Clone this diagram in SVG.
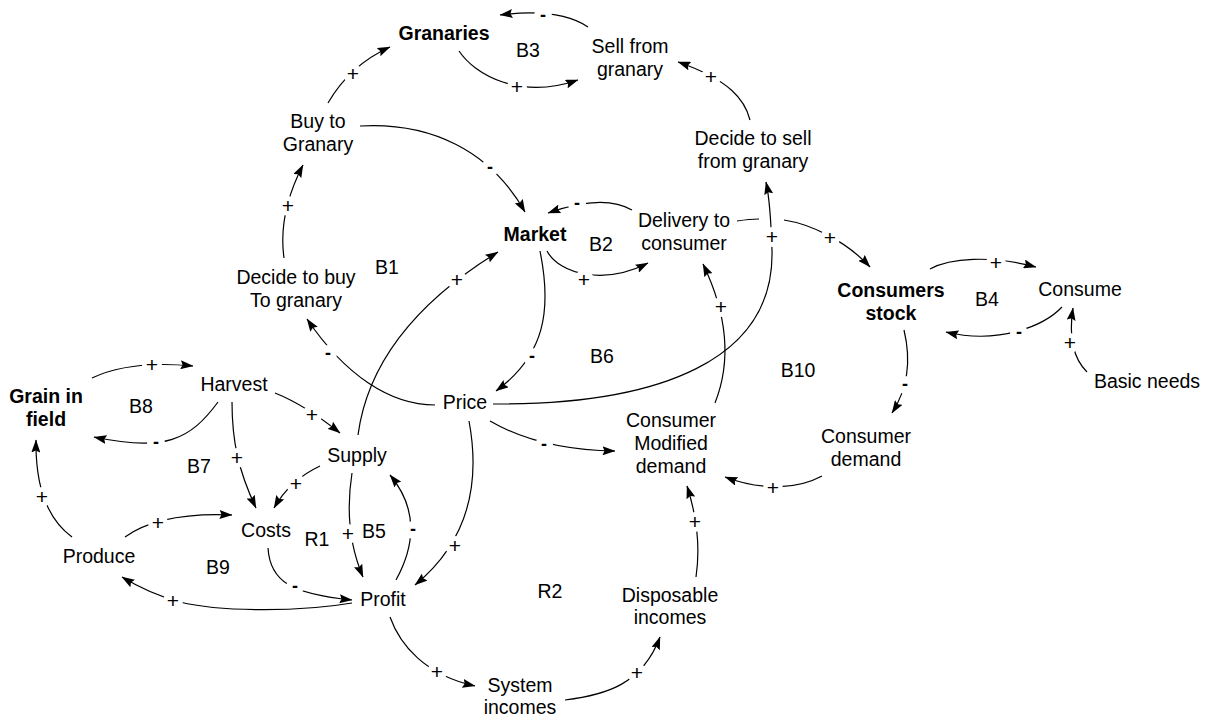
<svg xmlns="http://www.w3.org/2000/svg" width="1212" height="718" viewBox="0 0 1212 718">
<style>
  .n text, .loop { font-family: "Liberation Sans", Arial, Helvetica, sans-serif; font-size: 19.5px; fill: #000; text-anchor: middle; }
  .b text { font-weight: bold; }
  .edges path { fill: none; stroke: #000; stroke-width: 1.2; marker-end: url(#ah); }
  .pol { font-family: "Liberation Sans", Arial, Helvetica, sans-serif; font-size: 21px; text-anchor: middle; fill: #000; }
  .neg { font-weight: bold; font-size: 18px; }
</style>
<defs>
  <marker id="ah" viewBox="0 0 13 9" refX="12.5" refY="4.5" markerWidth="13" markerHeight="9" orient="auto" markerUnits="userSpaceOnUse">
    <path d="M0,0 L13,4.5 L0,9 L2,4.5 z" fill="#000"/>
  </marker>
  <mask id="gaps" maskUnits="userSpaceOnUse" x="0" y="0" width="1212" height="718">
    <rect x="0" y="0" width="1212" height="718" fill="#fff"/>
    <g fill="#000">
      <circle cx="152" cy="365" r="10"/><circle cx="156" cy="443" r="9"/><circle cx="312" cy="415" r="10"/>
      <circle cx="237" cy="458" r="10"/><circle cx="296" cy="484" r="10"/><circle cx="158" cy="523" r="10"/>
      <circle cx="42" cy="497" r="10"/><circle cx="173" cy="601" r="10"/><circle cx="295" cy="587" r="9"/>
      <circle cx="348" cy="534" r="10"/><circle cx="413" cy="530" r="9"/><circle cx="455" cy="546" r="10"/>
      <circle cx="544" cy="445" r="9"/><circle cx="328" cy="354" r="9"/><circle cx="457" cy="280" r="10"/>
      <circle cx="532" cy="357" r="9"/><circle cx="584" cy="280" r="10"/><circle cx="577" cy="204" r="9"/>
      <circle cx="490" cy="168" r="9"/><circle cx="288" cy="206" r="10"/><circle cx="353" cy="74" r="10"/>
      <circle cx="517" cy="87" r="10"/><circle cx="543" cy="16" r="9"/><circle cx="711" cy="77" r="10"/>
      <circle cx="772" cy="237" r="10"/><circle cx="830" cy="238" r="10"/><circle cx="996" cy="263" r="10"/>
      <circle cx="1019" cy="333" r="9"/><circle cx="1070" cy="343" r="10"/><circle cx="905" cy="385" r="9"/>
      <circle cx="773" cy="488" r="10"/><circle cx="695" cy="522" r="10"/><circle cx="721" cy="307" r="10"/>
      <circle cx="437" cy="672" r="10"/><circle cx="637" cy="673" r="10"/>
    </g>
  </mask>
</defs>
<rect width="1212" height="718" fill="#fff"/>

<g id="connectors">
  <g class="edges" mask="url(#gaps)">
    <path id="e-grain-harvest" d="M92,378 Q130,360 193,366"/>
    <path id="e-harvest-grain" d="M218,402 C190,440 165,452 94,437"/>
    <path id="e-harvest-supply" d="M275,393 Q305,405 340,433"/>
    <path id="e-harvest-costs" d="M232,402 C232,440 238,470 256,508"/>
    <path id="e-supply-costs" d="M320,466 Q290,480 274,508"/>
    <path id="e-produce-costs" d="M125,537 Q160,512 232,515"/>
    <path id="e-produce-grain" d="M72,537 Q35,510 36,440"/>
    <path id="e-profit-produce" d="M352,603 C300,612 220,612 180,602 Q150,594 122,577"/>
    <path id="e-costs-profit" d="M268,548 C270,582 292,594 352,600"/>
    <path id="e-supply-profit" d="M352,473 Q343,530 363,577"/>
    <path id="e-profit-supply" d="M396,580 C418,540 415,505 390,475"/>
    <path id="e-price-profit" d="M469,421 C480,480 470,540 415,585"/>
    <path id="e-price-cmd" d="M490,421 Q540,450 615,451"/>
    <path id="e-price-decidebuy" d="M435,405 C390,405 345,375 307,319"/>
    <path id="e-supply-market" d="M358,435 C368,360 420,300 498,252"/>
    <path id="e-market-price" d="M540,251 C552,310 545,355 496,391"/>
    <path id="e-market-delivery" d="M547,251 C560,275 605,285 648,263"/>
    <path id="e-delivery-market" d="M632,210 C615,200 590,198 548,213"/>
    <path id="e-buy-market" d="M360,126 C430,122 490,150 525,212"/>
    <path id="e-decidebuy-buy" d="M284,258 C280,230 285,200 303,165"/>
    <path id="e-buy-granaries" d="M328,103 Q350,65 390,47"/>
    <path id="e-granaries-sell" d="M459,51 C475,75 520,100 578,80"/>
    <path id="e-sell-granaries" d="M588,27 C570,15 540,10 500,15"/>
    <path id="e-decidesell-sell" d="M750,120 C745,100 730,80 678,62"/>
    <path id="e-price-decidesell" d="M493,404 C660,405 775,360 772,250 C771,220 770,200 766,182"/>
    <path id="e-delivery-consumers" d="M737,221 Q750,219 759,219 M784,220 C810,224 845,240 870,267"/>
    <path id="e-consumers-consume" d="M930,269 C950,258 990,255 1036,267"/>
    <path id="e-consume-consumers" d="M1062,307 C1045,325 1000,345 946,332"/>
    <path id="e-basic-consume" d="M1087,372 C1075,360 1068,340 1073,308"/>
    <path id="e-consumers-demand" d="M904,330 C910,355 910,385 892,413"/>
    <path id="e-demand-cmd" d="M822,476 C800,488 765,492 725,477"/>
    <path id="e-disp-cmd" d="M696,577 C700,550 698,520 687,486"/>
    <path id="e-cmd-delivery" d="M715,403 C730,365 730,320 703,264"/>
    <path id="e-profit-system" d="M390,617 C400,645 425,675 475,686"/>
    <path id="e-system-disp" d="M565,700 C605,695 642,685 660,637"/>
  </g>
  <g id="polarities">
    <text class="pol" x="152" y="372">+</text>
    <text class="pol neg" x="156" y="448">-</text>
    <text class="pol" x="312" y="422">+</text>
    <text class="pol" x="237" y="465">+</text>
    <text class="pol" x="296" y="491">+</text>
    <text class="pol" x="158" y="530">+</text>
    <text class="pol" x="42" y="504">+</text>
    <text class="pol" x="173" y="608">+</text>
    <text class="pol neg" x="295" y="592">-</text>
    <text class="pol" x="348" y="541">+</text>
    <text class="pol neg" x="413" y="535">-</text>
    <text class="pol" x="455" y="553">+</text>
    <text class="pol neg" x="544" y="450">-</text>
    <text class="pol neg" x="328" y="359">-</text>
    <text class="pol" x="457" y="287">+</text>
    <text class="pol neg" x="532" y="362">-</text>
    <text class="pol" x="584" y="287">+</text>
    <text class="pol neg" x="577" y="209">-</text>
    <text class="pol neg" x="490" y="173">-</text>
    <text class="pol" x="288" y="213">+</text>
    <text class="pol" x="353" y="81">+</text>
    <text class="pol" x="517" y="94">+</text>
    <text class="pol neg" x="543" y="21">-</text>
    <text class="pol" x="711" y="84">+</text>
    <text class="pol" x="772" y="244">+</text>
    <text class="pol" x="830" y="245">+</text>
    <text class="pol" x="996" y="270">+</text>
    <text class="pol neg" x="1019" y="338">-</text>
    <text class="pol" x="1070" y="350">+</text>
    <text class="pol neg" x="905" y="390">-</text>
    <text class="pol" x="773" y="495">+</text>
    <text class="pol" x="695" y="529">+</text>
    <text class="pol" x="721" y="314">+</text>
    <text class="pol" x="437" y="679">+</text>
    <text class="pol" x="637" y="680">+</text>
  </g>
</g>

<g id="nodes">
  <g class="n b" id="granaries"><text x="444" y="40">Granaries</text></g>
  <g class="n" id="sell-from-granary"><text x="630" y="53">Sell from</text><text x="630" y="76">granary</text></g>
  <g class="n" id="buy-to-granary"><text x="318" y="128">Buy to</text><text x="318" y="151">Granary</text></g>
  <g class="n" id="decide-to-sell"><text x="753" y="145">Decide to sell</text><text x="753" y="168">from granary</text></g>
  <g class="n b" id="market"><text x="535" y="241">Market</text></g>
  <g class="n" id="delivery"><text x="684" y="227">Delivery to</text><text x="684" y="250">consumer</text></g>
  <g class="n" id="decide-to-buy"><text x="296" y="284">Decide to buy</text><text x="296" y="307">To granary</text></g>
  <g class="n b" id="consumers-stock"><text x="891" y="297">Consumers</text><text x="891" y="320">stock</text></g>
  <g class="n" id="consume"><text x="1080" y="296">Consume</text></g>
  <g class="n" id="basic-needs"><text x="1147" y="388">Basic needs</text></g>
  <g class="n" id="harvest"><text x="234" y="391">Harvest</text></g>
  <g class="n b" id="grain-in-field"><text x="46" y="403">Grain in</text><text x="46" y="426">field</text></g>
  <g class="n" id="price"><text x="465" y="409">Price</text></g>
  <g class="n" id="consumer-modified-demand"><text x="671" y="427">Consumer</text><text x="671" y="450">Modified</text><text x="671" y="473">demand</text></g>
  <g class="n" id="consumer-demand"><text x="866" y="443">Consumer</text><text x="866" y="466">demand</text></g>
  <g class="n" id="supply"><text x="357" y="462">Supply</text></g>
  <g class="n" id="costs"><text x="266" y="537">Costs</text></g>
  <g class="n" id="produce"><text x="99" y="563">Produce</text></g>
  <g class="n" id="profit"><text x="383" y="606">Profit</text></g>
  <g class="n" id="disposable-incomes"><text x="670" y="602">Disposable</text><text x="670" y="624">incomes</text></g>
  <g class="n" id="system-incomes"><text x="520" y="692">System</text><text x="520" y="714">incomes</text></g>
</g>

<g id="loops">
  <text class="loop" x="528" y="57">B3</text>
  <text class="loop" x="601" y="251">B2</text>
  <text class="loop" x="387" y="274">B1</text>
  <text class="loop" x="987" y="306">B4</text>
  <text class="loop" x="602" y="363">B6</text>
  <text class="loop" x="798" y="377">B10</text>
  <text class="loop" x="141" y="413">B8</text>
  <text class="loop" x="199" y="473">B7</text>
  <text class="loop" x="317" y="546">R1</text>
  <text class="loop" x="374" y="538">B5</text>
  <text class="loop" x="218" y="574">B9</text>
  <text class="loop" x="550" y="598">R2</text>
</g>
</svg>
